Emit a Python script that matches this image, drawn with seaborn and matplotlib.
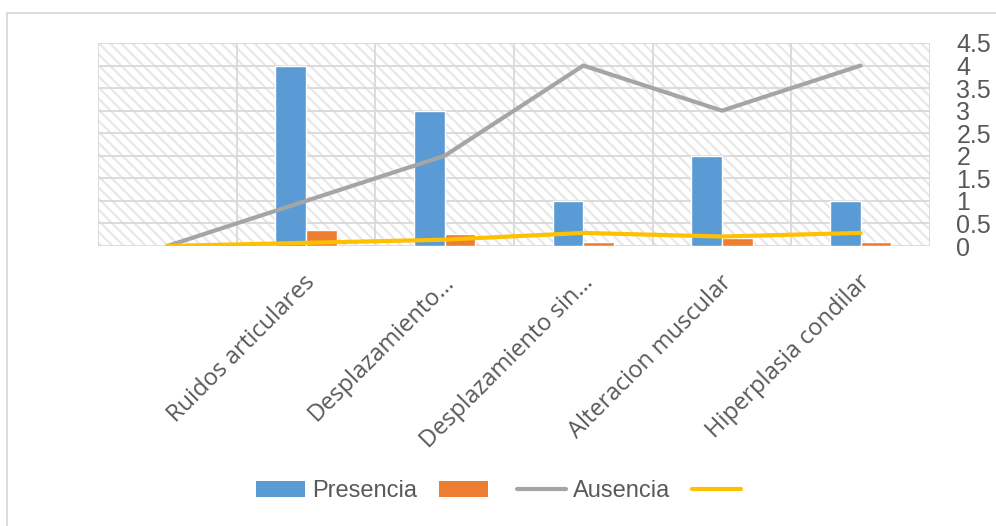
import numpy as np
import pandas as pd
import matplotlib
matplotlib.use('agg')
import matplotlib.pyplot as plt
import matplotlib.transforms as mtransforms
from matplotlib.patches import Rectangle, Patch
from matplotlib.lines import Line2D
import seaborn as sns

# data
categories = ["", "Ruidos articulares", "Desplazamiento…", "Desplazamiento sin…",
              "Alteracion muscular", "Hiperplasia condilar"]
presencia = [0, 4, 3, 1, 2, 1]
presencia_pct = [0, 0.36, 0.27, 0.09, 0.18, 0.09]
ausencia = [0, 1, 2, 4, 3, 4]
ausencia_pct = [0, 0.07, 0.14, 0.29, 0.21, 0.29]
y_ticks = [0, 0.5, 1, 1.5, 2, 2.5, 3, 3.5, 4, 4.5]
y_tick_labels = ["0", "0.5", "1", "1.5", "2", "2.5", "3", "3.5", "4", "4.5"]

BLUE = "#5B9BD5"
ORANGE = "#ED7D31"
GRAY = "#A5A5A5"
YELLOW = "#FFC000"
GRID = "#d9d9d9"
TEXT = "#595959"
SANS = ["Liberation Sans", "DejaVu Sans"]

sns.set_style("white")
plt.rcParams["font.family"] = ["Open Sans", "DejaVu Sans"]
plt.rcParams["hatch.linewidth"] = 1.6

df_bars = pd.DataFrame({
    "cat": categories * 2,
    "val": presencia + presencia_pct,
    "serie": ["Presencia"] * len(categories) + ["Presencia %"] * len(categories),
})

fig = plt.figure(figsize=(9.96, 5.26), dpi=100)
ax = fig.add_axes([98 / 996, 1 - 246 / 526, (930 - 98) / 996, (246 - 43) / 526])

# hatched plot area
bg = Rectangle((0, 0), 1, 1, transform=ax.transAxes, facecolor="white",
               edgecolor="#e8e8e8", hatch="\\\\\\", linewidth=0, zorder=0.1)
ax.add_patch(bg)

sns.barplot(data=df_bars, x="cat", y="val", hue="serie", order=categories,
            palette=[BLUE, ORANGE], width=0.44, gap=0, saturation=1,
            legend=False, ax=ax, zorder=2)

xpos = np.arange(len(categories))
sns.lineplot(x=xpos, y=ausencia, color=GRAY, linewidth=3, ax=ax, zorder=3,
             solid_capstyle="round")
sns.lineplot(x=xpos, y=ausencia_pct, color=YELLOW, linewidth=3, ax=ax, zorder=4,
             solid_capstyle="round")

ax.set_xlim(-0.5, len(categories) - 0.5)
ax.set_ylim(0, 4.5)
ax.set_xlabel("")
ax.set_ylabel("")

for s in ax.spines.values():
    s.set_visible(False)

ax.set_axisbelow(True)
ax.set_yticks(y_ticks)
ax.set_yticklabels(y_tick_labels, fontsize=18, color=TEXT, family=SANS)
ax.yaxis.tick_right()
ax.tick_params(axis="y", length=0, pad=19)
ax.yaxis.grid(True, color=GRID, linewidth=1.3)

ax.set_xticks(xpos)
ax.set_xticks(np.arange(-0.5, len(categories)), minor=True)
ax.tick_params(axis="x", which="major", length=0, pad=0)
ax.tick_params(axis="x", which="minor", length=7, color=GRID, width=1.3)
ax.xaxis.grid(True, which="minor", color=GRID, linewidth=1.3)

offset = mtransforms.ScaledTranslation(0.06, -0.33, fig.dpi_scale_trans)
ax.set_xticklabels(categories, fontsize=17, color=TEXT)
for lab in ax.get_xticklabels():
    lab.set_rotation(45)
    lab.set_ha("right")
    lab.set_va("center")
    lab.set_rotation_mode("anchor")
    lab.set_transform(lab.get_transform() + offset)

# legend
handles = [Patch(facecolor=BLUE, edgecolor="none"),
           Patch(facecolor=ORANGE, edgecolor="none"),
           Line2D([], [], color=GRAY, linewidth=3, solid_capstyle="round"),
           Line2D([], [], color=YELLOW, linewidth=3, solid_capstyle="round")]
fig.legend(handles, ["Presencia", "", "Ausencia", ""], loc="center",
           bbox_to_anchor=(502 / 996, 1 - 491 / 526), ncol=4, frameon=False,
           prop={"family": SANS, "size": 17},
           labelcolor=TEXT, handlelength=2.1, handleheight=0.65,
           handletextpad=0.3, columnspacing=0.9)

# outer chart border (only top and left visible)
fig.add_artist(Line2D([7 / 996, 1], [1 - 13 / 526, 1 - 13 / 526], color=GRID, linewidth=1.3))
fig.add_artist(Line2D([7 / 996, 7 / 996], [0, 1 - 13 / 526], color=GRID, linewidth=1.3))

fig.savefig("out.png", dpi=100)
plt.close(fig)
